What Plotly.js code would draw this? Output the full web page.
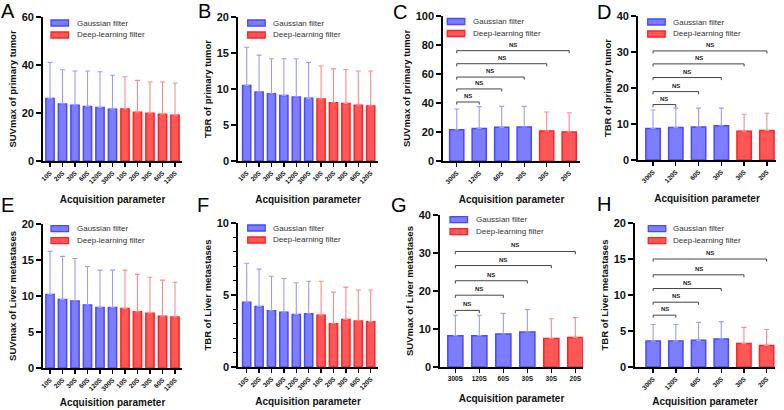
<!DOCTYPE html>
<html><head><meta charset="utf-8">
<script src="https://cdn.plot.ly/plotly-3.0.1.min.js"></script>
<style>html,body{margin:0;padding:0;background:#fff}#chart{width:784px;height:410px}</style>
</head><body><div id="chart"></div>
<script>
// ---------------- DATA ----------------
const labelsLong  = ["10S","20S","30S","60S","120S","300S","10S","20S","30S","60S","120S"];
const labelsShort = ["300S","120S","60S","30S","30S","20S"];
const seriesNames = ["Gaussian filter","Deep-learning filter"];

// A: SUVmax of primary tumor (all acquisitions)
const aGaussMean = [26.0, 23.8, 23.2, 22.7, 22.3, 21.6];
const aGaussSD   = [15.1, 14.2, 14.3, 14.8, 14.9, 14.1];
const aDeepMean  = [21.7, 20.3, 19.9, 19.5, 19.1];
const aDeepSD    = [13.4, 13.3, 13.0, 13.4, 13.4];

// B: TBR of primary tumor
const bGaussMean = [10.5, 9.6, 9.35, 9.1, 8.9, 8.7];
const bGaussSD   = [5.3, 5.1, 4.85, 5.1, 5.3, 5.0];
const bDeepMean  = [8.6, 8.1, 8.0, 7.75, 7.65];
const bDeepSD    = [4.6, 4.7, 4.7, 4.75, 4.85];

// C: SUVmax of primary tumor (selected)
const cGaussMean = [21.6, 22.5, 23.2, 23.4];
const cGaussSD   = [14.3, 15.0, 14.5, 14.3];
const cDeepMean  = [20.7, 20.0];
const cDeepSD    = [13.1, 13.3];
const cBracketTo = [1, 2, 3, 4, 5];
const cBracketY  = [40.7, 49.7, 57.9, 67.1, 76.1];

// D: TBR of primary tumor (selected)
const dGaussMean = [8.75, 9.0, 9.2, 9.5];
const dGaussSD   = [5.15, 5.4, 5.2, 4.9];
const dDeepMean  = [8.0, 8.2];
const dDeepSD    = [4.7, 4.8];
const dBracketTo = [1, 2, 3, 4, 5];
const dBracketY  = [15.4, 19.0, 22.9, 26.7, 30.3];

// E: SUVmax of Liver metastases
const eGaussMean = [10.2, 9.5, 9.3, 8.75, 8.4, 8.4];
const eGaussSD   = [6.0, 6.0, 5.9, 5.35, 5.2, 5.2];
const eDeepMean  = [8.25, 7.8, 7.6, 7.2, 7.1];
const eDeepSD    = [5.35, 5.2, 5.0, 5.0, 4.8];

// F: TBR of Liver metastases
const fGaussMean = [4.5, 4.2, 3.9, 3.8, 3.65, 3.7];
const fGaussSD   = [2.7, 2.6, 2.4, 2.35, 2.2, 2.25];
const fDeepMean  = [3.6, 3.0, 3.3, 3.2, 3.15];
const fDeepSD    = [2.35, 2.2, 2.25, 2.15, 2.2];

// G: SUVmax of Liver metastases (selected)
const gGaussMean = [8.25, 8.25, 8.7, 9.2];
const gGaussSD   = [5.35, 5.35, 5.4, 5.9];
const gDeepMean  = [7.5, 7.75];
const gDeepSD    = [5.2, 5.25];
const gBracketTo = [1, 2, 3, 4, 5];
const gBracketY  = [14.9, 18.9, 22.7, 26.7, 30.4];

// H: TBR of Liver metastases (selected)
const hGaussMean = [3.6, 3.6, 3.7, 3.9];
const hGaussSD   = [2.3, 2.3, 2.5, 2.4];
const hDeepMean  = [3.25, 3.0];
const hDeepSD    = [2.25, 2.2];
const hBracketTo = [1, 2, 3, 4, 5];
const hBracketY  = [7.2, 9.0, 10.9, 12.8, 15.0];

// ---------------- STYLE ----------------
const W = 784, H = 410;
const px = x => x / W;
const py = y => 1 - y / H;
const blueFill = 'rgba(92,92,255,0.80)', blueLine = '#4848FF', blueErr = '#9C9CFF';
const redFill  = 'rgba(255,58,58,0.85)', redLine  = '#FF2222', redErr  = '#FF8A8A';
const FONT = 'Liberation Sans, Arial, sans-serif';

// panel layout (pixel boxes) + links to data
const panels = [
  {id:'A', labels:labelsLong,  gm:aGaussMean, gs:aGaussSD, dm:aDeepMean, ds:aDeepSD, ymax:60,  dtick:20, ytitle:'SUVmax of primary tumor',
   box:[43,182,17,161], xr:[-0.56,10.56], letter:[7.5,11], leg:[51,20,75], rot:true, so:12},
  {id:'B', labels:labelsLong,  gm:bGaussMean, gs:bGaussSD, dm:bDeepMean, ds:bDeepSD, ymax:20,  dtick:5,  ytitle:'TBR of primary tumor',
   box:[238,378,17,161], xr:[-0.70,10.59], letter:[204.5,11], leg:[247.7,20,271], rot:true, so:12},
  {id:'C', labels:labelsShort, gm:cGaussMean, gs:cGaussSD, dm:cDeepMean, ds:cDeepSD, ymax:100, dtick:20, ytitle:'SUVmax of primary tumor',
   box:[443,580,16,161], xr:[-0.61,5.48], letter:[399.5,11.5], leg:[447.3,18.5,471], rot:true, so:12, bt:cBracketTo, by:cBracketY},
  {id:'D', labels:labelsShort, gm:dGaussMean, gs:dGaussSD, dm:dDeepMean, ds:dDeepSD, ymax:40,  dtick:10, ytitle:'TBR of primary tumor',
   box:[638,776,16,160], xr:[-0.66,5.40], letter:[604,11.5], leg:[647.7,19,670.7], rot:true, so:12, bt:dBracketTo, by:dBracketY},
  {id:'E', labels:labelsLong,  gm:eGaussMean, gs:eGaussSD, dm:eDeepMean, ds:eDeepSD, ymax:20,  dtick:5,  ytitle:'SUVmax of Liver metastases',
   box:[43,182,224,368], xr:[-0.56,10.56], letter:[7.5,205], leg:[51,225.7,75], rot:true, so:8},
  {id:'F', labels:labelsLong,  gm:fGaussMean, gs:fGaussSD, dm:fDeepMean, ds:fDeepSD, ymax:10,  dtick:5,  ytitle:'TBR of Liver metastases',
   box:[238,378,223,367], xr:[-0.70,10.59], letter:[203,205], leg:[247.7,225,271], rot:true, so:8, minor:1},
  {id:'G', labels:labelsShort, gm:gGaussMean, gs:gGaussSD, dm:gDeepMean, ds:gDeepSD, ymax:40,  dtick:10, ytitle:'SUVmax of Liver metastases',
   box:[440,583,215,367], xr:[-0.64,5.32], letter:[399,205], leg:[450,216.7,474.3], rot:false, so:14, bt:gBracketTo, by:gBracketY},
  {id:'H', labels:labelsShort, gm:hGaussMean, gs:hGaussSD, dm:hDeepMean, ds:hDeepSD, ymax:20,  dtick:5,  ytitle:'TBR of Liver metastases',
   box:[635,775,223,367], xr:[-0.80,5.37], letter:[604,204], leg:[648.3,225.7,670.7], rot:true, so:8, bt:hBracketTo, by:hBracketY}
];

const data = [];
const layout = {
  width: W, height: H, margin:{l:0,r:0,t:0,b:0},
  paper_bgcolor:'#fff', plot_bgcolor:'rgba(0,0,0,0)',
  showlegend:false, barmode:'overlay', bargap:0,
  font:{family:FONT, color:'#000'},
  shapes:[], annotations:[]
};

panels.forEach((p, k) => {
  const n = k === 0 ? '' : String(k + 1);
  const xa = 'x' + n, ya = 'y' + n;
  const nG = p.gm.length, nD = p.dm.length;
  const many = p.labels.length > 8;
  const bw = many ? 0.66 : 0.63;
  const xG = p.gm.map((_, i) => i);
  const xD = p.dm.map((_, i) => nG + i);

  data.push({
    type:'bar', name:seriesNames[0], x:xG, y:p.gm, xaxis:xa, yaxis:ya, width:bw,
    marker:{color:blueFill, line:{color:blueLine, width:1.5}},
    error_y:{type:'data', symmetric:false, array:p.gs, arrayminus:p.gs.map(() => 0), color:blueErr, thickness:1.1, width:2.5},
    hoverinfo:'skip'
  });
  data.push({
    type:'bar', name:seriesNames[1], x:xD, y:p.dm, xaxis:xa, yaxis:ya, width:bw,
    marker:{color:redFill, line:{color:redLine, width:1.5}},
    error_y:{type:'data', symmetric:false, array:p.ds, arrayminus:p.ds.map(() => 0), color:redErr, thickness:1.1, width:2.5},
    hoverinfo:'skip'
  });

  const [x0, x1, yT, yB] = p.box;
  layout['xaxis' + n] = {
    domain:[px(x0), px(x1)], anchor:ya, range:p.xr,
    tickmode:'array', tickvals:p.labels.map((_, i) => i), ticktext:p.labels,
    tickangle:p.rot ? -45 : 0,
    tickfont:{family:FONT, size:6.5, weight:'bold', color:'#111'},
    ticks:'outside', ticklen:4, tickwidth:1.4, tickcolor:'#000',
    showline:true, linecolor:'#000', linewidth:1.8, showgrid:false, zeroline:false,
    fixedrange:true,
    title:{text:'Acquisition parameter', font:{family:FONT, size:10, weight:'bold', color:'#111'}, standoff:p.so}
  };
  const yax = {
    domain:[py(yB), py(yT)], anchor:xa, range:[0, p.ymax],
    tickmode:'linear', tick0:0, dtick:p.dtick,
    tickfont:{family:FONT, size:11, weight:'bold', color:'#111'},
    ticks:'outside', ticklen:5, tickwidth:1.4, tickcolor:'#000',
    showline:true, linecolor:'#000', linewidth:1.8, showgrid:false, zeroline:false,
    fixedrange:true,
    title:{text:p.ytitle, font:{family:FONT, size:9.5, weight:'bold', color:'#111'}, standoff:3}
  };
  if (p.minor) yax.minor = {dtick:p.minor, ticks:'outside', ticklen:3, tickwidth:1, tickcolor:'#000', showgrid:false};
  layout['yaxis' + n] = yax;

  // panel letter
  layout.annotations.push({
    xref:'paper', yref:'paper', x:px(p.letter[0]), y:py(p.letter[1]), xanchor:'center', yanchor:'middle',
    text:p.id, showarrow:false, font:{family:FONT, size:20, color:'#000'}
  });

  // legend (swatches + text)
  const [lx, ly, tx] = p.leg;
  [[blueFill, blueLine], [redFill, redLine]].forEach((c, j) => {
    const top = ly + j * 12;
    layout.shapes.push({type:'rect', xref:'paper', yref:'paper',
      x0:px(lx), x1:px(lx + 17.5), y0:py(top + 6), y1:py(top),
      fillcolor:c[0], line:{color:c[1], width:1.3}});
    layout.annotations.push({xref:'paper', yref:'paper', x:px(tx), y:py(top + 3),
      xanchor:'left', yanchor:'middle', text:seriesNames[j], showarrow:false,
      font:{family:FONT, size:8, color:'#333'}});
  });

  // significance brackets
  if (p.bt) {
    const d = p.ymax * 0.018;
    p.bt.forEach((t, i) => {
      const h = p.by[i];
      layout.shapes.push({type:'path', xref:xa, yref:ya,
        path:`M0,${h - d} L0,${h} L${t},${h} L${t},${h - d}`,
        line:{color:'#444', width:1}});
      layout.annotations.push({xref:xa, yref:ya, x:t / 2, y:h, xanchor:'center', yanchor:'bottom', yshift:1,
        text:'NS', showarrow:false, font:{family:FONT, size:6, weight:'bold', color:'#222'}});
    });
  }
});

Plotly.newPlot('chart', data, layout, {staticPlot:true, displayModeBar:false});
</script>
</body></html>
